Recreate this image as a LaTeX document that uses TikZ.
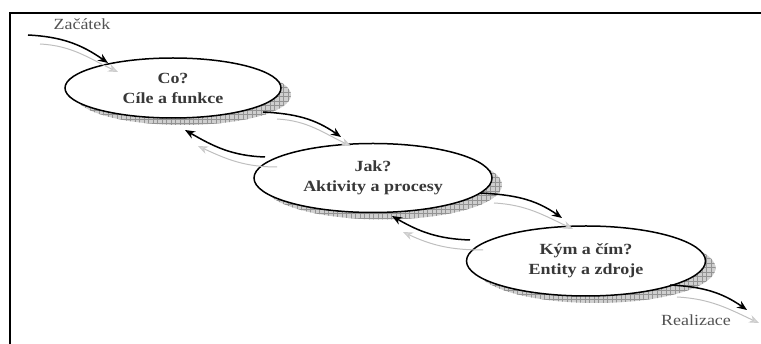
\documentclass[tikz,border=0pt]{standalone}
\usepackage{fontspec}
\setmainfont[FakeStretch=1.16]{Liberation Serif}
\usetikzlibrary{arrows.meta,shapes.geometric,shadows,patterns}

% fine square grid used inside the shadows
\pgfdeclarepatternformonly{shadegrid}{\pgfqpoint{-1pt}{-1pt}}{\pgfqpoint{6pt}{6pt}}{\pgfqpoint{4.5pt}{4.5pt}}{%
  \pgfsetlinewidth{0.45pt}%
  \pgfpathmoveto{\pgfqpoint{0pt}{0pt}}\pgfpathlineto{\pgfqpoint{4.6pt}{0pt}}%
  \pgfpathmoveto{\pgfqpoint{0pt}{0pt}}\pgfpathlineto{\pgfqpoint{0pt}{4.6pt}}%
  \pgfusepath{stroke}}

\tikzset{
  stage/.style={ellipse, draw=black, line width=1.5pt, fill=white, inner sep=0pt,
    align=center, font=\fontsize{15.5}{20}\selectfont\bfseries, text=black!78,
    general shadow={shadow xshift=10pt, shadow yshift=-7pt, draw=none, fill=gray!38},
    general shadow={shadow xshift=10pt, shadow yshift=-7pt, draw=none,
      pattern=shadegrid, pattern color=gray!85}},
  tag/.style={font=\fontsize{15.5}{20}\selectfont, text=black!68},
  flow/.style={draw=black, line width=1.5pt, -{Stealth[length=10pt,width=8pt]}},
  ghost/.style={draw=gray!50, line width=1pt,
    -{Stealth[length=10pt,width=8pt,fill=gray!30,color=gray!40]}},
}

\begin{document}
\begin{tikzpicture}[x=1pt,y=-1pt]
\useasboundingbox (0,0) rectangle (761,344);

% frame
\draw[line width=1.8pt] (10,344) -- (10,13) -- (761,13);

% stages
\node[stage, minimum width=216pt, minimum height=60pt] (co)  at (173,88)  {Co?\\Cíle a funkce};
\node[stage, minimum width=238pt, minimum height=69pt] (jak) at (373,178) {Jak?\\Aktivity a procesy};
\node[stage, minimum width=239pt, minimum height=70pt] (kym) at (586,261) {Kým a čím?\\Entity a zdroje};

% labels
\node[tag] (zac) at (82,24)  {Začátek};
\node[tag] (rea) at (696,320) {Realizace};

% connector end points
\coordinate (s0) at (28,35);   \coordinate (s1) at (108,63);
\coordinate (t0) at (40,44);   \coordinate (t1) at (118,72);
\coordinate (a0) at (263,112); \coordinate (a1) at (341,137);
\coordinate (u0) at (277,119); \coordinate (u1) at (351,146);
\coordinate (b0) at (265,157); \coordinate (b1) at (185,130);
\coordinate (v0) at (277,167); \coordinate (v1) at (198,146);
\coordinate (c0) at (480,193); \coordinate (c1) at (562,218);
\coordinate (w0) at (494,203); \coordinate (w1) at (573,229);
\coordinate (d0) at (470,240); \coordinate (d1) at (392,216);
\coordinate (x0) at (483,250); \coordinate (x1) at (403,232);
\coordinate (e0) at (670,285); \coordinate (e1) at (747,310);
\coordinate (y0) at (677,297); \coordinate (y1) at (759,323);

% pale echoes
\draw[ghost] (t0) to[out=-3,in=155] (t1);
\draw[ghost] (u0) to[out=-3,in=155] (u1);
\draw[ghost] (v0) to[out=180,in=-25] (v1);
\draw[ghost] (w0) to[out=-3,in=155] (w1);
\draw[ghost] (x0) to[out=180,in=-25] (x1);
\draw[ghost] (y0) to[out=-3,in=155] (y1);

% main flow
\draw[flow] (s0) to[out=-3,in=145] (s1);
\draw[flow] (a0) to[out=-3,in=145] (a1);
\draw[flow] (b0) to[out=178,in=-30] (b1);
\draw[flow] (c0) to[out=-3,in=145] (c1);
\draw[flow] (d0) to[out=178,in=-30] (d1);
\draw[flow] (e0) to[out=-3,in=145] (e1);
\end{tikzpicture}
\end{document}
